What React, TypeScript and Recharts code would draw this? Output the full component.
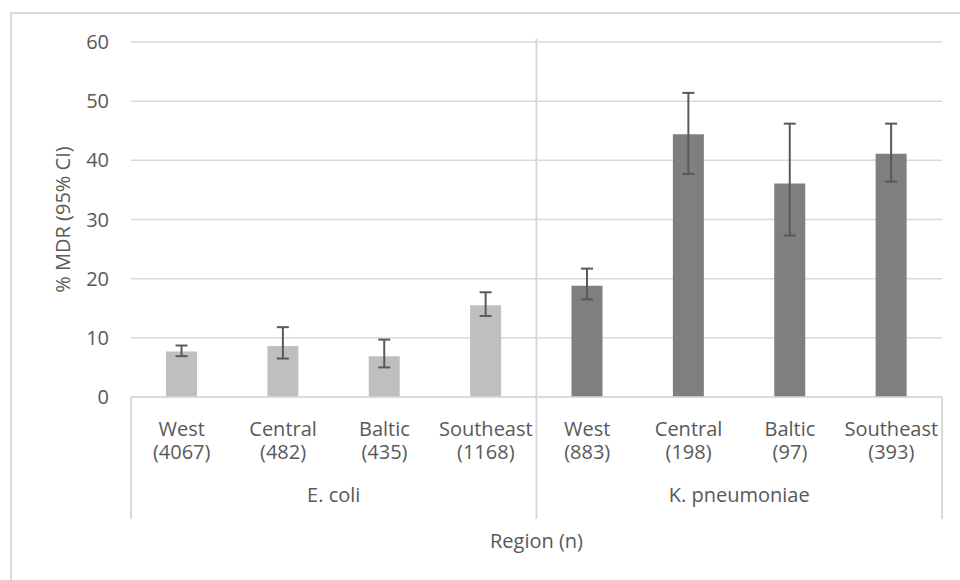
import React from 'react';
import { BarChart, Bar, XAxis, YAxis, CartesianGrid, ErrorBar, Cell, ReferenceLine } from 'recharts';

const organisms = ['E. coli', 'E. coli', 'E. coli', 'E. coli', 'K. pneumoniae', 'K. pneumoniae', 'K. pneumoniae', 'K. pneumoniae'];
const regions = ['West', 'Central', 'Baltic', 'Southeast', 'West', 'Central', 'Baltic', 'Southeast'];
const sampleSizes = [4067, 482, 435, 1168, 883, 198, 97, 393];
const mdrPercent = [7.7, 8.6, 6.9, 15.5, 18.8, 44.4, 36.1, 41.1];
const ciLower = [6.9, 6.5, 5.0, 13.7, 16.5, 37.7, 27.3, 36.4];
const ciUpper = [8.7, 11.8, 9.7, 17.7, 21.7, 51.4, 46.2, 46.2];
const yTicks = [0, 10, 20, 30, 40, 50, 60];
const organismColors: Record<string, string> = { 'E. coli': '#bfbfbf', 'K. pneumoniae': '#7f7f7f' };

const data = regions.map((r, i) => ({
  key: `${organisms[i]}|${r}`,
  region: r,
  n: sampleSizes[i],
  organism: organisms[i],
  mdr: mdrPercent[i],
  ci: [mdrPercent[i] - ciLower[i], ciUpper[i] - mdrPercent[i]],
}));

const FONT = "'Open Sans', sans-serif";
const TEXT = '#595959';
const LINE = '#d9d9d9';

const firstKey = data[0].key;
const lastKey = data[data.length - 1].key;
const splitKey = data[organisms.lastIndexOf('E. coli')].key;

const CategoryTick = (props: any) => {
  const { x, y, payload } = props;
  const d = data.find((e) => e.key === payload.value);
  if (!d) return null;
  return (
    <text x={x} y={y + 39} textAnchor="middle" fontFamily={FONT} fontSize={20} fill={TEXT}>
      <tspan x={x}>{d.region}</tspan>
      <tspan x={x} dy={23}>({d.n})</tspan>
    </text>
  );
};

const GroupTick = (props: any) => {
  const { x, y, payload } = props;
  return (
    <text x={x} y={y + 35} textAnchor="middle" fontFamily={FONT} fontSize={20} fill={TEXT}>
      {payload.value}
    </text>
  );
};

export default function App() {
  return (
    <div style={{ position: 'fixed', left: 0, top: 0, width: 960, height: 580, overflow: 'hidden', background: '#fff' }}>
      <div
        style={{
          position: 'absolute',
          left: 10,
          top: 12,
          width: 960,
          height: 580,
          borderTop: `2px solid ${LINE}`,
          borderLeft: `2px solid ${LINE}`,
        }}
      />
      <div style={{ position: 'absolute', left: 12, top: 14 }}>
        <BarChart
          width={940}
          height={560}
          data={data}
          margin={{ top: 28, right: 10, bottom: 17, left: 0 }}
          barSize={31}
        >
          <CartesianGrid xAxisId="cat" vertical={false} stroke={LINE} strokeWidth={1.5} />
          <XAxis
            xAxisId="cat"
            dataKey="key"
            type="category"
            interval={0}
            height={70}
            tickSize={0}
            tickMargin={0}
            tickLine={false}
            axisLine={{ stroke: LINE, strokeWidth: 1.5 }}
            tick={<CategoryTick />}
          />
          <XAxis
            xAxisId="group"
            dataKey="organism"
            type="category"
            allowDuplicatedCategory={false}
            interval={0}
            height={90}
            tickSize={0}
            tickMargin={0}
            tickLine={false}
            axisLine={false}
            tick={<GroupTick />}
            label={{
              value: 'Region (n)',
              position: 'insideBottom',
              offset: 9,
              style: { fontFamily: FONT, fontSize: 20, fill: TEXT },
            }}
          />
          <YAxis
            domain={[0, 60]}
            ticks={yTicks}
            width={119}
            axisLine={false}
            tickLine={false}
            tickSize={0}
            tickMargin={22}
            tick={{ fontFamily: FONT, fontSize: 20, fill: TEXT }}
            label={{
              value: '% MDR (95% CI)',
              angle: -90,
              position: 'insideLeft',
              offset: 51,
              style: { textAnchor: 'middle', fontFamily: FONT, fontSize: 20, fill: TEXT },
            }}
          />
          <Bar xAxisId="cat" dataKey="mdr" isAnimationActive={false}>
            {data.map((d) => (
              <Cell key={d.key} fill={organismColors[d.organism]} />
            ))}
            <ErrorBar dataKey="ci" direction="y" width={6} stroke={TEXT} strokeWidth={2} isAnimationActive={false} />
          </Bar>
          <ReferenceLine
            xAxisId="cat"
            position="start"
            ifOverflow="visible"
            segment={[{ x: firstKey, y: 0 }, { x: firstKey, y: -20.6 }]}
            stroke={LINE}
            strokeWidth={2}
          />
          <ReferenceLine
            xAxisId="cat"
            position="end"
            ifOverflow="visible"
            segment={[{ x: splitKey, y: 60.5 }, { x: splitKey, y: -20.6 }]}
            stroke={LINE}
            strokeWidth={2}
          />
          <ReferenceLine
            xAxisId="cat"
            position="end"
            ifOverflow="visible"
            segment={[{ x: lastKey, y: 0 }, { x: lastKey, y: -20.6 }]}
            stroke={LINE}
            strokeWidth={2}
          />
        </BarChart>
      </div>
    </div>
  );
}
